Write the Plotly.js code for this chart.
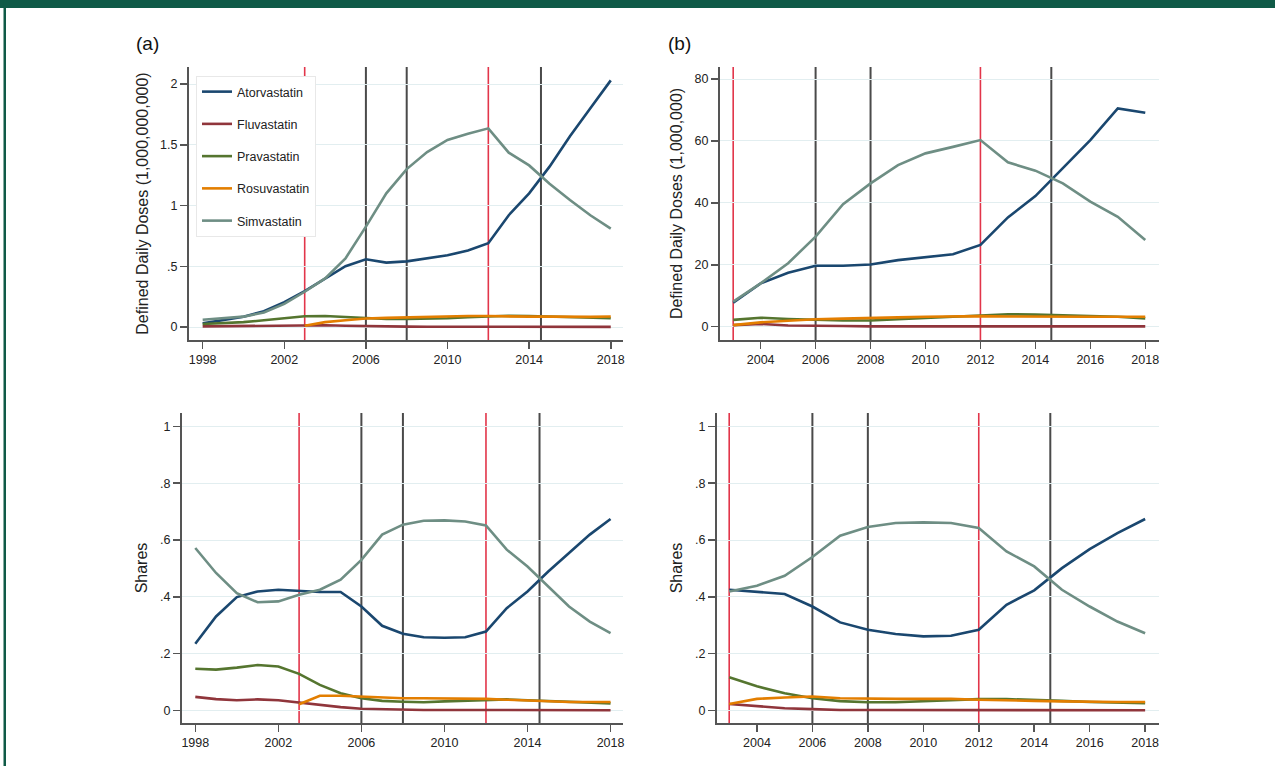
<!DOCTYPE html>
<html>
<head>
<meta charset="utf-8">
<script src="https://cdn.plot.ly/plotly-3.0.1.min.js"></script>
<style>html,body{margin:0;padding:0;background:#fff;}#chart{width:1275px;height:766px;}</style>
</head>
<body>
<div id="chart"></div>
<script>
// ---------- data ----------
const drugs = ["Atorvastatin", "Fluvastatin", "Pravastatin", "Rosuvastatin", "Simvastatin"];

const yearsA = [1998,1999,2000,2001,2002,2003,2004,2005,2006,2007,2008,2009,2010,2011,2012,2013,2014,2015,2016,2017,2018];
const yearsB = [2003,2004,2005,2006,2007,2008,2009,2010,2011,2012,2013,2014,2015,2016,2017,2018];

// (a) top: Defined Daily Doses (1,000,000,000)
const ddA_ator   = [0.03,0.055,0.085,0.13,0.205,0.295,0.395,0.50,0.557,0.53,0.54,0.565,0.59,0.63,0.69,0.92,1.10,1.32,1.57,1.80,2.03];
const ddA_fluva  = [0.005,0.007,0.01,0.012,0.015,0.016,0.014,0.01,0.006,0.004,0.003,0.002,0.002,0.002,0.002,0.001,0.001,0.001,0.001,0.001,0.001];
const ddA_prava  = [0.025,0.03,0.04,0.055,0.072,0.088,0.09,0.08,0.07,0.066,0.066,0.068,0.072,0.08,0.088,0.092,0.09,0.085,0.08,0.075,0.072];
const ddA_rosuva = [null,null,null,null,null,0.01,0.04,0.055,0.07,0.075,0.08,0.085,0.088,0.09,0.09,0.086,0.085,0.085,0.083,0.083,0.087];
const ddA_simva  = [0.06,0.07,0.085,0.12,0.19,0.29,0.40,0.565,0.826,1.10,1.30,1.44,1.54,1.59,1.635,1.435,1.33,1.18,1.045,0.92,0.81];

// (b) top: Defined Daily Doses (1,000,000)
const ddB_ator   = [7.75,14.0,17.4,19.7,19.7,20.1,21.5,22.4,23.4,26.4,35.3,42.2,51.1,60.3,70.5,69.1];
const ddB_fluva  = [0.5,0.9,0.4,0.2,0.2,0.1,0.1,0.1,0.1,0.1,0.1,0.1,0.1,0.1,0.1,0.1];
const ddB_prava  = [2.2,2.9,2.5,2.2,2.0,2.0,2.4,2.9,3.2,3.7,4.0,3.9,3.7,3.4,3.2,2.7];
const ddB_rosuva = [0.5,1.4,1.9,2.4,2.6,2.7,3.0,3.2,3.4,3.4,3.3,3.2,3.2,3.2,3.2,3.2];
const ddB_simva  = [8.1,14.0,20.5,29.1,39.6,46.3,52.2,56.0,58.1,60.3,53.1,50.4,46.3,40.4,35.5,28.0];

// (a) bottom: Shares
const shA_ator   = [0.235,0.331,0.399,0.419,0.425,0.421,0.417,0.417,0.366,0.298,0.270,0.258,0.256,0.258,0.278,0.360,0.419,0.489,0.554,0.619,0.674];
const shA_fluva  = [0.048,0.040,0.036,0.039,0.036,0.028,0.019,0.012,0.006,0.004,0.002,0.002,0.002,0.002,0.002,0.001,0.001,0.001,0.001,0.001,0.001];
const shA_prava  = [0.147,0.144,0.151,0.160,0.155,0.129,0.090,0.061,0.043,0.034,0.031,0.029,0.032,0.034,0.038,0.039,0.036,0.033,0.030,0.028,0.025];
const shA_rosuva = [null,null,null,null,null,0.022,0.052,0.052,0.049,0.046,0.043,0.043,0.043,0.043,0.041,0.038,0.035,0.033,0.030,0.030,0.030];
const shA_simva  = [0.572,0.484,0.413,0.381,0.384,0.407,0.425,0.460,0.530,0.619,0.654,0.668,0.669,0.665,0.651,0.566,0.507,0.437,0.366,0.313,0.272];

// (b) bottom: Shares
const shB_ator   = [0.425,0.417,0.410,0.366,0.310,0.284,0.269,0.261,0.263,0.284,0.372,0.423,0.501,0.568,0.624,0.674];
const shB_fluva  = [0.023,0.016,0.008,0.005,0.002,0.002,0.002,0.002,0.002,0.002,0.001,0.001,0.001,0.001,0.001,0.001];
const shB_prava  = [0.117,0.085,0.061,0.043,0.033,0.029,0.029,0.032,0.035,0.040,0.040,0.038,0.034,0.030,0.028,0.026];
const shB_rosuva = [0.023,0.041,0.046,0.049,0.043,0.041,0.041,0.041,0.041,0.038,0.035,0.034,0.032,0.030,0.030,0.030];
const shB_simva  = [0.419,0.439,0.474,0.540,0.615,0.646,0.660,0.662,0.660,0.642,0.560,0.507,0.425,0.366,0.313,0.272];

// reference (event) lines
const redLines   = [2003, 2012];
const blackLines = [2006, 2008, 2014.58];

// tick labels
const xTicksA = [1998, 2002, 2006, 2010, 2014, 2018];
const xTicksB = [2004, 2006, 2008, 2010, 2012, 2014, 2016, 2018];
const yTicksDA = [0, 0.5, 1, 1.5, 2];
const yTextDA  = ["0", ".5", "1", "1.5", "2"];
const yTicksDB = [0, 20, 40, 60, 80];
const yTextDB  = ["0", "20", "40", "60", "80"];
const yTicksSh = [0, 0.2, 0.4, 0.6, 0.8, 1];
const yTextSh  = ["0", ".2", ".4", ".6", ".8", "1"];

const titleA = "Defined Daily Doses (1,000,000,000)";
const titleB = "Defined Daily Doses (1,000,000)";
const titleS = "Shares";

// ---------- style ----------
const colors = ["#1a476f", "#90353b", "#55752f", "#e37e00", "#6e8e84"];
const FONT = "Liberation Sans, Arial, Helvetica, sans-serif";
const W = 1275, H = 766;

const panels = [
  {xa: "x",  ya: "y",  years: yearsA, series: [ddA_ator, ddA_fluva, ddA_prava, ddA_rosuva, ddA_simva], legend: true},
  {xa: "x2", ya: "y2", years: yearsB, series: [ddB_ator, ddB_fluva, ddB_prava, ddB_rosuva, ddB_simva], legend: false},
  {xa: "x3", ya: "y3", years: yearsA, series: [shA_ator, shA_fluva, shA_prava, shA_rosuva, shA_simva], legend: false},
  {xa: "x4", ya: "y4", years: yearsB, series: [shB_ator, shB_fluva, shB_prava, shB_rosuva, shB_simva], legend: false}
];

const traces = [];
panels.forEach(p => {
  p.series.forEach((vals, i) => {
    traces.push({
      type: "scatter", mode: "lines",
      x: p.years, y: vals,
      xaxis: p.xa, yaxis: p.ya,
      name: drugs[i], legendgroup: drugs[i],
      showlegend: p.legend,
      connectgaps: false,
      line: {color: colors[i], width: 2.6},
      hoverinfo: "x+y+name"
    });
  });
});

function xAxis(px0, px1, range, ticks, anchor) {
  return {
    domain: [px0 / W, px1 / W], range: range, anchor: anchor,
    tickmode: "array", tickvals: ticks, ticktext: ticks.map(String),
    ticks: "outside", ticklen: 7, tickwidth: 1.5, tickcolor: "#555",
    showline: true, linecolor: "#555", linewidth: 2,
    showgrid: false, zeroline: false, automargin: false,
    tickfont: {family: FONT, size: 12.5, color: "#222"}
  };
}
function yAxis(py0, py1, range, ticks, text, title, anchor, standoff) {
  return {
    domain: [1 - py1 / H, 1 - py0 / H], range: range, anchor: anchor,
    tickmode: "array", tickvals: ticks, ticktext: text,
    ticks: "outside", ticklen: 7, tickwidth: 1.5, tickcolor: "#555",
    showline: true, linecolor: "#555", linewidth: 2,
    showgrid: true, gridcolor: "#e2eef0", gridwidth: 1,
    zeroline: false, automargin: false,
    tickfont: {family: FONT, size: 12.5, color: "#222"},
    title: {text: title, standoff: standoff, font: {family: FONT, size: 16, color: "#222"}}
  };
}

const shapes = [];
// frame decoration: top band and left rule
shapes.push({type: "rect", xref: "paper", yref: "paper", x0: 0, x1: 1, y0: 1 - 8 / H, y1: 1, fillcolor: "#0f5a47", line: {width: 0}, layer: "above"});
shapes.push({type: "rect", xref: "paper", yref: "paper", x0: 3.5 / W, x1: 6 / W, y0: 0, y1: 1, fillcolor: "#0f5a47", line: {width: 0}, layer: "above"});

panels.forEach(p => {
  redLines.forEach(v => shapes.push({type: "line", xref: p.xa, yref: p.ya + " domain", x0: v, x1: v, y0: 0, y1: 1, line: {color: "#e2354a", width: 1.6}, layer: "below"}));
  blackLines.forEach(v => shapes.push({type: "line", xref: p.xa, yref: p.ya + " domain", x0: v, x1: v, y0: 0, y1: 1, line: {color: "#4a4a4a", width: 2}, layer: "below"}));
});

const layout = {
  width: W, height: H,
  margin: {l: 0, r: 0, t: 0, b: 0},
  paper_bgcolor: "#ffffff", plot_bgcolor: "#ffffff",
  font: {family: FONT, color: "#222"},
  showlegend: true,
  legend: {
    x: 196 / W, y: 1 - 76 / H, xanchor: "left", yanchor: "top",
    bgcolor: "#ffffff", bordercolor: "#e8e8e8", borderwidth: 1,
    font: {family: FONT, size: 12.5, color: "#222"},
    tracegroupgap: 13, traceorder: "grouped"
  },
  xaxis:  xAxis(189, 623, [1997.33, 2018.6], xTicksA, "y"),
  yaxis:  yAxis(67, 340, [-0.107, 2.14], yTicksDA, yTextDA, titleA, "x", 8),
  xaxis2: xAxis(720, 1159, [2002.52, 2018.5], xTicksB, "y2"),
  yaxis2: yAxis(67, 340, [-4.3, 83.9], yTicksDB, yTextDB, titleB, "x2", 8),
  xaxis3: xAxis(182, 623, [1997.36, 2018.6], xTicksA, "y3"),
  yaxis3: yAxis(413, 723, [-0.044, 1.047], yTicksSh, yTextSh, titleS, "x3", 8),
  xaxis4: xAxis(717, 1159, [2002.56, 2018.5], xTicksB, "y4"),
  yaxis4: yAxis(413, 723, [-0.044, 1.047], yTicksSh, yTextSh, titleS, "x4", 8),
  shapes: shapes,
  annotations: [
    {text: "(a)", xref: "paper", yref: "paper", x: 134 / W, y: 1 - 44 / H, xanchor: "left", yanchor: "middle", showarrow: false, font: {family: FONT, size: 19, color: "#111"}},
    {text: "(b)", xref: "paper", yref: "paper", x: 666 / W, y: 1 - 44 / H, xanchor: "left", yanchor: "middle", showarrow: false, font: {family: FONT, size: 19, color: "#111"}}
  ]
};

Plotly.newPlot("chart", traces, layout, {displayModeBar: false, staticPlot: true});
</script>
</body>
</html>
